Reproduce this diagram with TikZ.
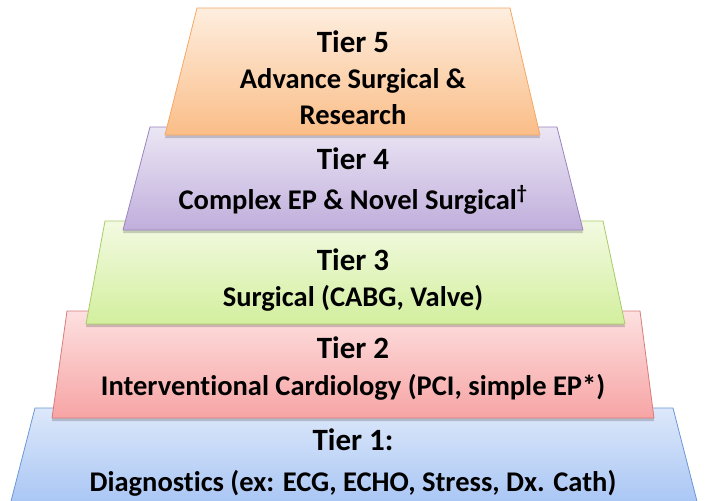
\documentclass[tikz,border=0pt]{standalone}
\usepackage{fontspec}
\setmainfont[Ligatures=NoCommon]{Carlito}
\definecolor{oTop}{HTML}{FEEEDF}\definecolor{oBot}{HTML}{FABD87}\definecolor{oLine}{HTML}{F5A865}
\definecolor{pTop}{HTML}{EBE6F4}\definecolor{pBot}{HTML}{C0AEDC}\definecolor{pLine}{HTML}{9A84BE}
\definecolor{gTop}{HTML}{F3FAE2}\definecolor{gBot}{HTML}{D3EF9E}\definecolor{gLine}{HTML}{A6CC68}
\definecolor{rTop}{HTML}{FDE0E0}\definecolor{rBot}{HTML}{F7A4A4}\definecolor{rLine}{HTML}{D87C7C}
\definecolor{bTop}{HTML}{DDE8FA}\definecolor{bBot}{HTML}{A6C4F4}\definecolor{bLine}{HTML}{6A98D6}
\begin{document}
\begin{tikzpicture}[x=1pt,y=-1pt,
  tiershadow/.style={fill=black,opacity=0.18},
  head/.style={anchor=base,font=\fontsize{31}{31}\selectfont\bfseries,inner sep=0pt},
  sub/.style={anchor=base,font=\fontsize{28.5}{28.5}\selectfont\bfseries,inner sep=0pt}]
\useasboundingbox (0,0) rectangle (705,501);
\clip (0,0) rectangle (705,501);
% Tier 1
\fill[tiershadow] (35,410) -- (673,410) -- (699,511) -- (11,511) -- cycle;
\shade[top color=bTop,bottom color=bBot,draw=bLine,line width=0.8pt]
  (35,408) -- (673,408) -- (699,509) -- (9,509) -- cycle;
% Tier 2
\fill[tiershadow] (67,313) -- (640,313) -- (654,421) -- (52,421) -- cycle;
\shade[top color=rTop,bottom color=rBot,draw=rLine,line width=0.8pt]
  (67,311) -- (640,311) -- (654,418) -- (52,418) -- cycle;
% Tier 3
\fill[tiershadow] (105,223) -- (603,223) -- (625,327) -- (86,327) -- cycle;
\shade[top color=gTop,bottom color=gBot,draw=gLine,line width=0.8pt]
  (105,221) -- (603,221) -- (625,324) -- (86,324) -- cycle;
% Tier 4
\fill[tiershadow] (150,129) -- (557,129) -- (583,233) -- (123,233) -- cycle;
\shade[top color=pTop,bottom color=pBot,draw=pLine,line width=0.8pt]
  (150,127) -- (557,127) -- (583,230) -- (123,230) -- cycle;
% Tier 5
\fill[tiershadow] (197,10) -- (510,10) -- (540,138) -- (165,138) -- cycle;
\shade[top color=oTop,bottom color=oBot,draw=oLine,line width=0.8pt]
  (197,8) -- (510,8) -- (540,135) -- (165,135) -- cycle;
% Texts
\node[head] (t5) at (353,52) {Tier 5};
\node[sub] (t5a) at (353,88) {Advance Surgical \&};
\node[sub] (t5b) at (353,124) {Research};
\node[head] (t4) at (353,169) {Tier 4};
\node[sub] (t4a) at (353,209) {Complex EP \& Novel Surgical\textsuperscript{†}};
\node[head] (t3) at (353,270) {Tier 3};
\node[sub] (t3a) at (353,306) {Surgical (CABG, Valve)};
\node[head] (t2) at (353,358) {Tier 2};
\node[sub] (t2a) at (353,395) {Interventional Cardiology (PCI, simple EP*)};
\node[head] (t1) at (353,450) {Tier 1:};
\node[sub] (t1a) at (353,491) {Diagnostics (ex: ECG, ECHO, Stress, Dx. Cath)};
\end{tikzpicture}
\end{document}
